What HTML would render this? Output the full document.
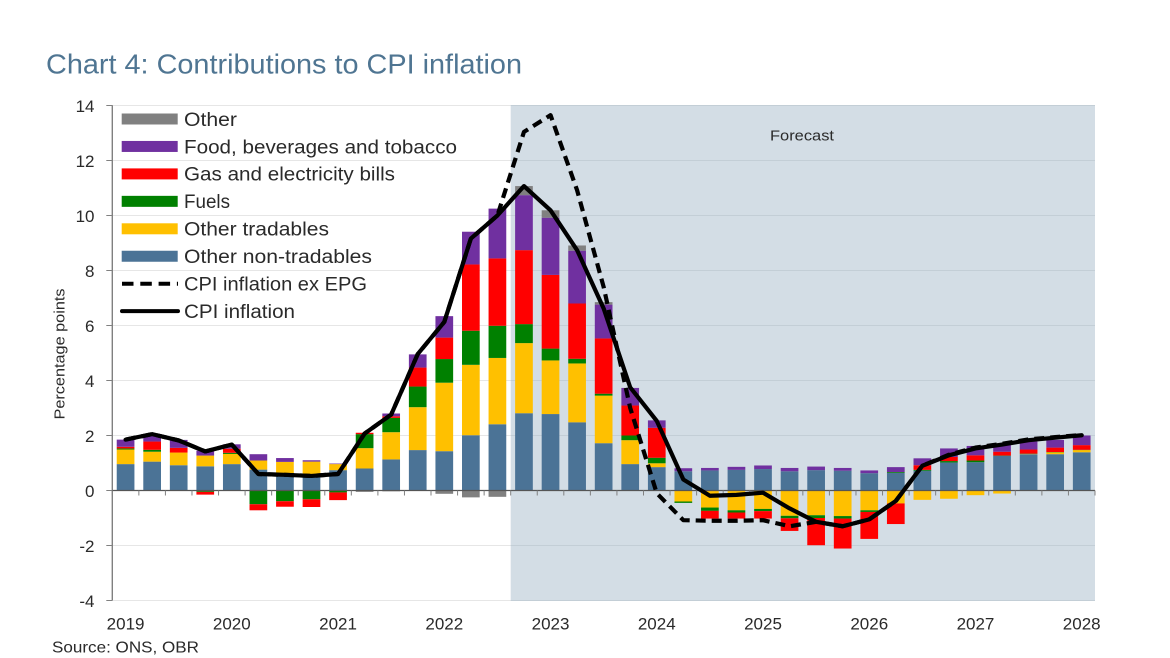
<!DOCTYPE html>
<html lang="en">
<head>
<meta charset="utf-8">
<title>Chart 4: Contributions to CPI inflation</title>
<style>
  html, body { margin: 0; padding: 0; background: #fff; }
  body { width: 1170px; height: 658px; overflow: hidden; }
  svg { display: block; font-family: "Liberation Sans", sans-serif; filter: blur(0.35px); }
  svg text { fill: #2a2a2a; }
</style>
</head>
<body>
<svg id="chart" width="1170" height="658" viewBox="0 0 1170 658" xmlns="http://www.w3.org/2000/svg">
  <text x="46" y="73.5" font-size="28" style="fill:#4f7592" textLength="476" lengthAdjust="spacingAndGlyphs">Chart 4: Contributions to CPI inflation</text>
  <g id="plot"></g>
  <g id="legend"></g>
  <text transform="translate(64.5,354) rotate(-90)" text-anchor="middle" font-size="14.5" textLength="131" lengthAdjust="spacingAndGlyphs">Percentage points</text>
  <text x="770" y="140.7" font-size="15" textLength="64" lengthAdjust="spacingAndGlyphs">Forecast</text>
  <text x="52" y="652.7" font-size="16" textLength="147" lengthAdjust="spacingAndGlyphs">Source: ONS, OBR</text>
</svg>
<script>
const yearLabels = ['2019','2020','2021','2022','2023','2024','2025','2026','2027','2028'];
const yTicks = [14,12,10,8,6,4,2,0,-2,-4];
const quarterCount = 37;
const forecastStartIndex = 15;

const otherNonTradables = [0.96,1.05,0.92,0.88,0.96,0.76,0.55,0.55,0.74,0.8,1.13,1.47,1.43,2.01,2.41,2.81,2.78,2.48,1.72,0.96,0.85,0.7,0.73,0.75,0.78,0.7,0.74,0.72,0.63,0.64,0.72,1.02,1.03,1.26,1.32,1.32,1.39];
const otherTradables = [0.53,0.36,0.46,0.39,0.37,0.33,0.49,0.5,0.22,0.74,0.99,1.56,2.49,2.56,2.41,2.55,1.95,2.14,1.73,0.87,0.14,-0.4,-0.62,-0.72,-0.67,-0.92,-0.9,-0.93,-0.72,-0.47,-0.34,-0.3,-0.17,-0.11,0.01,0.07,0.08];
const fuels = [0.04,0.07,0,-0.05,0.04,-0.5,-0.39,-0.32,-0.07,0.51,0.52,0.75,0.86,1.24,1.17,0.69,0.43,0.17,0.07,0.17,0.2,-0.05,-0.12,-0.08,-0.08,-0.09,-0.1,-0.09,-0.06,0.03,0.03,0.05,0.06,0.01,0.01,0.01,0.01];
const gasElectricity = [0.06,0.3,0.17,-0.1,0.15,-0.22,-0.2,-0.28,-0.28,0.05,0.06,0.69,0.78,2.41,2.45,2.69,2.68,2.01,2.01,1.09,1.09,0,-0.28,-0.22,-0.27,-0.46,-0.99,-1.09,-0.98,-0.75,0.17,0.15,0.19,0.14,0.15,0.16,0.17];
const foodBeverages = [0.26,0.22,0.29,0.18,0.16,0.23,0.14,0.05,0.02,0,0.1,0.48,0.78,1.19,1.81,2,2.08,1.92,1.23,0.64,0.27,0.11,0.09,0.11,0.13,0.12,0.13,0.1,0.1,0.18,0.25,0.31,0.34,0.3,0.29,0.28,0.35];
const otherItems = [0,0,0,0,0,0,0,0,0,-0.05,-0.03,0,-0.12,-0.25,-0.23,0.33,0.27,0.19,0.09,0,0,0,0,0,0,0,0,0,0,0,0,0,0,0,0,0,0];
const cpiInflation = [1.85,2.05,1.82,1.42,1.67,0.6,0.57,0.53,0.6,2.07,2.76,4.96,6.13,9.16,10.0,11.07,10.19,8.74,6.62,3.75,2.53,0.4,-0.19,-0.16,-0.08,-0.65,-1.14,-1.3,-1.05,-0.38,0.9,1.28,1.53,1.67,1.83,1.92,2.01];
const cpiExEpg = [1.85,2.05,1.82,1.42,1.67,0.6,0.57,0.53,0.6,2.07,2.76,4.96,6.13,9.16,10.0,13.04,13.65,10.92,7.4,3.0,-0.1,-1.08,-1.1,-1.1,-1.08,-1.3,-1.14,-1.3,-1.05,-0.38,0.9,1.3,1.56,1.7,1.86,1.94,2.02];

const stackSeries = [
  { key: 'other-non-tradables', values: otherNonTradables, color: '#4b7396' },
  { key: 'other-tradables', values: otherTradables, color: '#ffc000' },
  { key: 'fuels', values: fuels, color: '#008000' },
  { key: 'gas-electricity', values: gasElectricity, color: '#ff0000' },
  { key: 'food-beverages', values: foodBeverages, color: '#7030a0' },
  { key: 'other', values: otherItems, color: '#808080' }
];
const legendLabels = ['Other','Food, beverages and tobacco','Gas and electricity bills','Fuels','Other tradables','Other non-tradables','CPI inflation ex EPG','CPI inflation'];
const legendColors = ['#808080','#7030a0','#ff0000','#008000','#ffc000','#4b7396'];
const legendWidths = [53,273,211,46,145,188,183,111];

const NS = 'http://www.w3.org/2000/svg';
const plot = document.getElementById('plot');
const legend = document.getElementById('legend');
const left = 112.3, right = 1095, top0 = 105.3;
const step = (right - left) / quarterCount;
const barW = 17.7;
function xPos(i) { return left + step * (i + 0.5); }
function yPos(v) { return 490.5 - 27.5 * v; }
function make(parent, tag, attrs) {
  const el = document.createElementNS(NS, tag);
  for (const k in attrs) el.setAttribute(k, attrs[k]);
  parent.appendChild(el);
  return el;
}

const shade = make(plot, 'rect', { x: left + step * forecastStartIndex, y: top0, width: right - left - step * forecastStartIndex, height: yPos(-4) - top0, fill: '#d3dde5' });



yTicks.forEach(function (t) {
  if (t !== 0) {
    const splitX = left + step * forecastStartIndex;
    const g1 = make(plot, 'line', { x1: left, x2: splitX, y1: yPos(t), y2: yPos(t), stroke: '#e6e6e6', 'stroke-width': 1 });
    
    
    const g2 = make(plot, 'line', { x1: splitX, x2: right, y1: yPos(t), y2: yPos(t), stroke: '#c3ced6', 'stroke-width': 1 });
    
    
  }
  const tick = make(plot, 'line', { x1: left - 6, x2: left, y1: yPos(t), y2: yPos(t), stroke: '#808080', 'stroke-width': 1 });
  
  
  const lab = make(plot, 'text', { x: 94.5, y: yPos(t) + 6.3, 'text-anchor': 'end', 'font-size': 17 });
  lab.textContent = String(t);
  
  
});

for (let i = 0; i < quarterCount; i++) {
  let pos = 0, neg = 0;
  stackSeries.forEach(function (s) {
    const v = s.values[i];
    if (!v) return;
    let a, b;
    if (v > 0) { a = pos; b = pos + v; pos = b; }
    else { a = neg + v; b = neg; neg = a; }
    const bar = make(plot, 'rect', { x: xPos(i) - barW / 2, y: yPos(b), width: barW, height: yPos(a) - yPos(b), fill: s.color });
    
    
  });
}

const yAxis = make(plot, 'line', { x1: left, x2: left, y1: top0, y2: yPos(-4), stroke: '#808080', 'stroke-width': 1.4 });


const xAxis = make(plot, 'line', { x1: left, x2: right, y1: yPos(0), y2: yPos(0), stroke: '#555', 'stroke-width': 1.2 });


for (let i = 0; i <= quarterCount; i++) {
  const xt = make(plot, 'line', { x1: left + step * i, x2: left + step * i, y1: yPos(0), y2: yPos(0) + 5, stroke: '#808080', 'stroke-width': 1 });
  
  
}
yearLabels.forEach(function (y, k) {
  const lab = make(plot, 'text', { x: xPos(k * 4), y: 629.5, 'text-anchor': 'middle', 'font-size': 17 });
  lab.textContent = y;
  
  
});

function pathFrom(arr) {
  return arr.map(function (v, i) { return (i ? 'L' : 'M') + xPos(i).toFixed(2) + ' ' + yPos(v).toFixed(2); }).join(' ');
}
const dashLine = make(plot, 'path', { d: pathFrom(cpiExEpg), fill: 'none', stroke: '#000', 'stroke-width': 4.2, 'stroke-dasharray': '10 6', 'stroke-linejoin': 'round' });


const solidLine = make(plot, 'path', { d: pathFrom(cpiInflation), fill: 'none', stroke: '#000', 'stroke-width': 4.2, 'stroke-linejoin': 'round', 'stroke-linecap': 'round' });



legendLabels.forEach(function (label, k) {
  const cy = 119 + 27.45 * k;
  if (k < legendColors.length) {
    const sw = make(legend, 'rect', { x: 121.7, y: cy - 5.5, width: 56, height: 11, fill: legendColors[k] });
    
    
  } else if (k === 6) {
    const ln = make(legend, 'line', { x1: 122, x2: 178, y1: cy, y2: cy, stroke: '#000', 'stroke-width': 4, 'stroke-dasharray': '11.5 6.8', 'stroke-linecap': 'butt' });
    
    
  } else {
    const ln = make(legend, 'line', { x1: 122, x2: 178, y1: cy, y2: cy, stroke: '#000', 'stroke-width': 4, 'stroke-linecap': 'round' });
    
    
  }
  const t = make(legend, 'text', { x: 184, y: cy + 6.8, 'font-size': 19, textLength: legendWidths[k], lengthAdjust: 'spacingAndGlyphs' });
  t.textContent = label;
  
  
});
</script>
</body>
</html>
